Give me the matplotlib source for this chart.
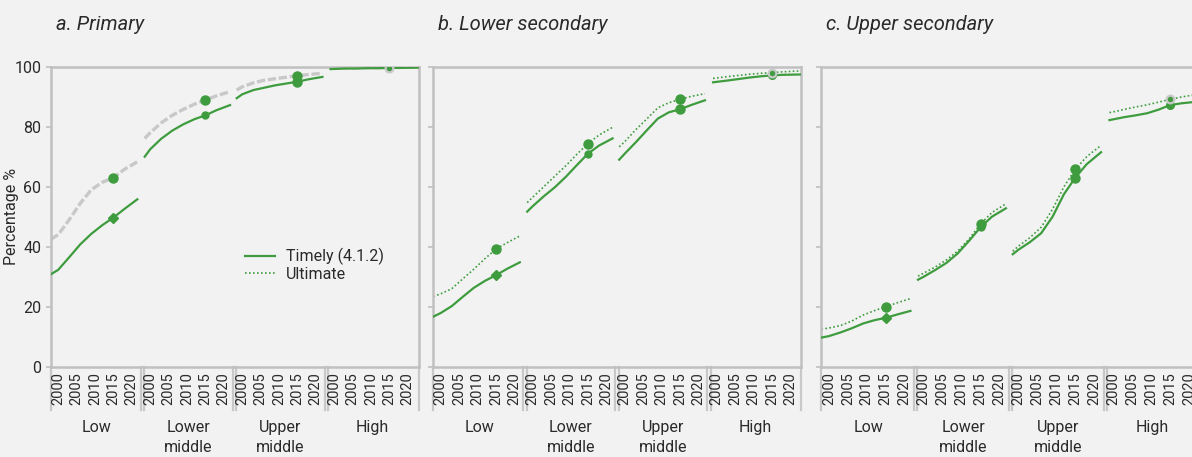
"""Completion rate by income group: timely vs ultimate, three education levels."""
import matplotlib.pyplot as plt
from matplotlib.lines import Line2D

plt.rcParams['font.family'] = ['Roboto', 'DejaVu Sans']

# -----------------------------
# data
# -----------------------------
groups = ["Low", "Lower\nmiddle", "Upper\nmiddle", "High"]
panel_titles = ["a. Primary", "b. Lower secondary", "c. Upper secondary"]
year_ticks = [2000, 2005, 2010, 2015, 2020]
marker_year = 2015

# years along each income-group line (same for the three panels)
years = [
    [1998, 2000, 2003, 2006, 2009, 2012, 2015, 2018, 2021.5],
    [1998.5, 2000, 2003, 2006, 2009, 2012, 2015, 2018, 2021.7],
    [1998.5, 2000, 2003, 2006, 2009, 2012, 2015, 2018, 2021.8],
    [1999, 2001, 2003, 2006, 2009, 2012, 2015, 2018, 2022.7],
]

primary_timely = [
    [30.8, 32.3, 36.5, 40.8, 44.3, 47.2, 49.7, 52.6, 55.8],
    [70.0, 72.5, 76.0, 78.7, 80.8, 82.5, 83.8, 85.5, 87.2],
    [89.5, 90.8, 92.2, 93.0, 93.8, 94.4, 95.0, 95.8, 96.6],
    [99.2, 99.3, 99.4, 99.4, 99.5, 99.5, 99.6, 99.6, 99.7],
]
primary_ultimate = [
    [42.5, 44.0, 49.0, 54.5, 59.0, 61.5, 63.0, 65.8, 68.3],
    [76.1, 78.0, 81.3, 83.8, 85.8, 87.5, 88.9, 90.3, 91.7],
    [92.2, 93.3, 94.6, 95.5, 96.0, 96.5, 97.0, 97.4, 97.8],
    [99.5, 99.5, 99.6, 99.6, 99.7, 99.7, 99.7, 99.8, 99.8],
]
lower_sec_timely = [
    [16.7, 17.9, 20.2, 23.3, 26.3, 28.6, 30.5, 32.6, 34.8],
    [51.7, 53.5, 56.8, 59.8, 63.3, 67.2, 71.0, 73.7, 76.1],
    [69.0, 71.0, 74.8, 78.8, 82.7, 84.8, 85.8, 87.2, 88.8],
    [94.8, 95.1, 95.4, 95.9, 96.4, 96.8, 97.1, 97.3, 97.4],
]
lower_sec_ultimate = [
    [23.4, 24.3, 26.0, 29.3, 32.5, 36.0, 39.2, 41.3, 43.6],
    [54.7, 56.5, 60.0, 63.5, 67.0, 70.8, 74.4, 77.2, 79.8],
    [73.3, 75.0, 79.0, 82.6, 86.3, 88.0, 89.1, 90.1, 91.0],
    [96.1, 96.4, 96.7, 97.1, 97.5, 97.8, 98.0, 98.3, 98.6],
]
upper_sec_timely = [
    [9.7, 10.2, 11.4, 12.8, 14.4, 15.5, 16.3, 17.4, 18.6],
    [29.0, 30.0, 32.2, 34.6, 37.8, 42.0, 46.5, 50.0, 52.8],
    [37.5, 39.0, 41.5, 44.5, 50.0, 57.5, 63.0, 67.5, 71.5],
    [82.2, 82.7, 83.2, 83.8, 84.5, 85.7, 87.2, 87.8, 88.4],
]
upper_sec_ultimate = [
    [12.5, 12.9, 13.7, 15.2, 17.2, 18.7, 20.0, 21.3, 22.7],
    [30.2, 31.2, 33.2, 35.6, 38.6, 42.6, 47.6, 51.4, 54.3],
    [38.5, 40.2, 43.0, 46.5, 52.5, 60.0, 65.8, 70.0, 73.8],
    [84.7, 85.2, 85.8, 86.6, 87.3, 88.2, 89.1, 89.9, 90.9],
]

panel_timely = [primary_timely, lower_sec_timely, upper_sec_timely]
panel_ultimate = [primary_ultimate, lower_sec_ultimate, upper_sec_ultimate]

# -----------------------------
# styles / layout
# -----------------------------
GREEN = "#3e9c3e"
LIGHT = "#c8c8c8"
SPINE = "#c0c0c0"
BG = "#f2f2f2"
TEXT = "#2a2a2a"

GROUP_W = 25.0      # x units per income group
YEAR0 = 1997.9      # year at the left edge of each group

W, H = 1192, 457
# left, width in pixels
panel_px = [(50.5, 368), (433, 368), (821, 379)]
bottom_px, top_px = 366.7, 66.7


def xpos(g, year):
    return g * GROUP_W + (year - YEAR0)


fig = plt.figure(figsize=(W / 100, H / 100), dpi=100, facecolor=BG)

axes = []
for p, (left, width) in enumerate(panel_px):
    ax = fig.add_axes([left / W, 1 - bottom_px / H, width / W, (bottom_px - top_px) / H])
    ax.set_facecolor(BG)
    axes.append(ax)

    for g in range(len(groups)):
        xs = [xpos(g, y) for y in years[g]]
        timely = panel_timely[p][g]
        ultimate = panel_ultimate[p][g]
        i15 = years[g].index(marker_year)

        if p == 0:
            ax.plot(xs, ultimate, color=LIGHT, lw=2.4, ls=(0, (2.5, 0.8)),
                    solid_capstyle="round", zorder=2)
        else:
            ax.plot(xs, ultimate, color=GREEN, lw=1.2, ls=(0, (1, 1.4)), zorder=2)
        ax.plot(xs, timely, color=GREEN, lw=1.6, zorder=3)

        # 2015 markers
        if g == 3:
            ax.plot(xpos(g, marker_year), timely[i15], "o", color=GREEN, ms=5.5,
                    mec=GREEN, zorder=4)
            ax.plot(xpos(g, marker_year), ultimate[i15], "o", color=GREEN, ms=5.5,
                    mec=LIGHT, mew=1.6, zorder=5)
        else:
            tm = "D" if g == 0 else "o"
            ts = 5 if g in (0, 1) else 6.5
            ax.plot(xpos(g, marker_year), timely[i15], tm, color=GREEN, ms=ts, zorder=4)
            ax.plot(xpos(g, marker_year), ultimate[i15], "o", color=GREEN, ms=6.5, zorder=5)

    ax.set_xlim(0, GROUP_W * len(groups))
    ax.set_ylim(0, 100)
    ax.set_yticks([0, 20, 40, 60, 80, 100])

    ticks = [xpos(g, y) for g in range(len(groups)) for y in year_ticks]
    ax.set_xticks(ticks)
    ax.set_xticklabels([str(y) for g in range(len(groups)) for y in year_ticks],
                       rotation=90, fontsize=10.5, color=TEXT)
    ax.tick_params(axis="x", length=0, pad=4)
    ax.tick_params(axis="y", length=3.5, width=1.2, color=SPINE, pad=3,
                   labelsize=11.5, labelcolor=TEXT)
    if p > 0:
        ax.set_yticklabels([])

    for s in ax.spines.values():
        s.set_color(SPINE)
        s.set_linewidth(1.8)

    # group brackets under the axis
    tr = ax.get_xaxis_transform()
    for b in range(len(groups) + 1):
        xb = b * GROUP_W
        offsets = [0.0] if b in (0, len(groups)) else [-0.45, 0.45]
        for off in offsets:
            ax.plot([xb + off, xb + off], [0, -0.145], transform=tr, color=LIGHT,
                    lw=1.6, clip_on=False, zorder=1)

    for g, name in enumerate(groups):
        ax.text(g * GROUP_W + GROUP_W / 2, -0.178, name, transform=tr, ha="center",
                va="top", fontsize=11.5, color=TEXT, linespacing=1.45)

    fig.text((left + 5) / W, 1 - 25 / H, panel_titles[p], fontsize=14.5, style="italic",
             color=TEXT, ha="left", va="center")

fig.text(12 / W, 1 - 216 / H, "Percentage %", rotation=90, fontsize=11.5, color=TEXT,
         ha="center", va="center")

handles = [
    Line2D([], [], color=GREEN, lw=1.6),
    Line2D([], [], color=GREEN, lw=1.2, ls=(0, (1, 1.4))),
]
axes[0].legend(handles, ["Timely (4.1.2)", "Ultimate"], loc="upper left",
               bbox_to_anchor=(0.528, 0.395), frameon=False, fontsize=11.5,
               handlelength=1.9, handletextpad=0.7, labelspacing=0.1,
               borderpad=0, borderaxespad=0, labelcolor=TEXT)

fig.savefig("out.png", dpi=100, facecolor=BG)
